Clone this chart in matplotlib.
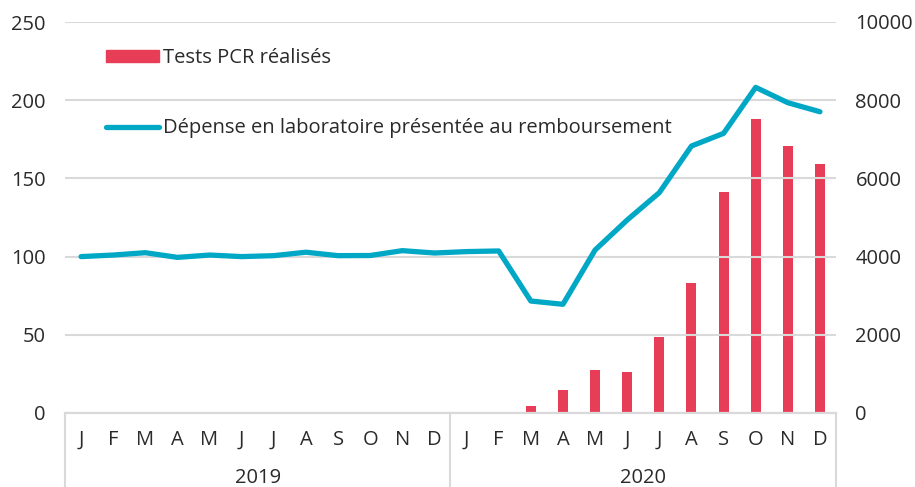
import matplotlib.pyplot as plt
from matplotlib.lines import Line2D
from matplotlib.patches import Patch
import numpy as np

plt.rcParams['font.family'] = ['Open Sans', 'DejaVu Sans']

# Data
months = ['J', 'F', 'M', 'A', 'M', 'J', 'J', 'A', 'S', 'O', 'N', 'D']
years = ['2019', '2020']
tick_labels = months * 2

# Dépense en laboratoire (indice, axe gauche)
depense = [100, 101, 102.5, 99.5, 101, 100, 100.6, 102.8, 100.6, 100.7, 103.8, 102.3,
           103.2, 103.6, 71.6, 69.5, 104.2, 123.4, 140.9, 170.7, 178.8, 208.2, 198.4, 192.6]

# Tests PCR réalisés (axe droit)
tests_pcr = [0, 0, 0, 0, 0, 0, 0, 0, 0, 0, 0, 0,
             0, 0, 170, 600, 1100, 1040, 1940, 3320, 5660, 7510, 6830, 6370]

red = '#e83d56'
blue = '#00a8c6'
grey = '#d9d9d9'
txt = '#2a2a2a'
fs = 14.5

x = np.arange(len(tick_labels))

fig = plt.figure(figsize=(9.15, 4.87), dpi=100)
ax1 = fig.add_axes([65 / 915, 1 - 413 / 487, (836 - 65) / 915, 391 / 487])
ax2 = ax1.twinx()

# bars on right axis
ax2.bar(x, tests_pcr, width=0.31, color=red, zorder=2)
ax2.set_ylim(0, 10000)
ax2.set_yticks(range(0, 10001, 2000))

# line on left axis, drawn on top
ax1.set_zorder(ax2.get_zorder() + 1)
ax1.patch.set_visible(False)
ax1.plot(x, depense, color=blue, lw=3.8, solid_capstyle='round', solid_joinstyle='round', zorder=3)
ax1.set_ylim(0, 250)
ax1.set_yticks(range(0, 251, 50))
ax1.set_xlim(-0.5, 23.5)
ax1.yaxis.grid(True, color=grey, lw=1.5)
ax1.set_axisbelow(True)

for ax in (ax1, ax2):
    for s in ['top', 'left', 'right']:
        ax.spines[s].set_visible(False)
    ax.spines['bottom'].set_color(grey)
    ax.spines['bottom'].set_linewidth(1.5)
    ax.tick_params(axis='y', length=0, labelsize=fs, labelcolor=txt, pad=14)

ax1.set_xticks(x)
ax1.set_xticklabels(tick_labels)
ax1.tick_params(axis='x', length=0, labelsize=fs, labelcolor=txt, pad=12)

# year separators and labels
for xs in [-0.5, 11.5, 23.5]:
    ax1.plot([xs, xs], [0, -0.2], transform=ax1.get_xaxis_transform(),
             color=grey, lw=1.5, clip_on=False)
for i, yr in enumerate(years):
    ax1.text(5.5 + 12 * i, -0.165, yr, transform=ax1.get_xaxis_transform(),
             ha='center', va='center', fontsize=fs, color=txt)

# legend
handles = [Patch(color=red), Line2D([0], [0], color=blue, lw=3.8, solid_capstyle='round')]
labels = ['Tests PCR réalisés', 'Dépense en laboratoire présentée au remboursement']
leg = ax1.legend(handles, labels, loc='upper left', bbox_to_anchor=(0.03, 0.98),
                 frameon=False, fontsize=fs, labelspacing=2.5, handlelength=2.6,
                 handletextpad=0.2, handleheight=0.55)
for t in leg.get_texts():
    t.set_color(txt)

plt.savefig('out.png', dpi=100)
